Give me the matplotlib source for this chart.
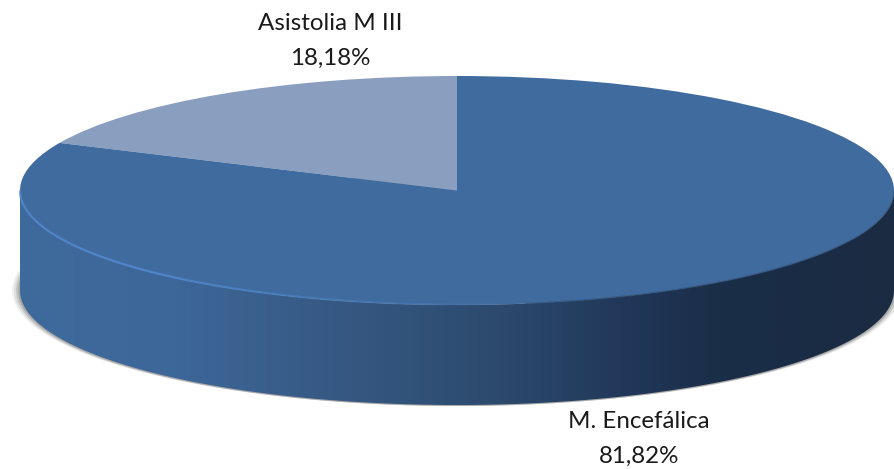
import matplotlib
matplotlib.use('Agg')
import matplotlib.pyplot as plt
from matplotlib.collections import LineCollection
from matplotlib.colors import LinearSegmentedColormap, to_rgba
from matplotlib.patches import Polygon
import numpy as np

labels = ['Asistolia M III', 'M. Encefálica']
values = [18.18, 81.82]
value_labels = ['18,18%', '81,82%']
slice_colors = ['#8A9EC0', '#406B9E']
wall_stops = [(0.0, '#3F6A9C'), (0.18, '#3D6798'), (0.32, '#385C88'), (0.55, '#2C4A6D'),
              (0.69, '#21385A'), (0.8, '#1B2E48'), (1.0, '#1A2B42')]

W, H = 894, 469
cx, cy, rx, ry, depth = 457, 190.5, 437, 114.5, 100

fig = plt.figure(figsize=(W / 100, H / 100), dpi=100)
ax = fig.add_axes([0, 0, 1, 1])
ax.set_xlim(0, W)
ax.set_ylim(H, 0)
ax.axis('off')

# soft shadow, strongest on the left
t = np.linspace(0, 2 * np.pi, 400)
for grow, alpha in [(8, 0.08), (6, 0.12), (4, 0.17), (2, 0.25)]:
    ax.fill(cx + (rx + grow) * np.cos(t), cy + depth + (ry + 1) * np.sin(t),
            color='#555555', alpha=alpha, lw=0, zorder=1)

# side wall, gradient clipped to the band
t = np.linspace(0, np.pi, 300)
wall_x = cx + rx * np.cos(t)
wall_y = cy + ry * np.sin(t)
outline = np.column_stack([np.r_[wall_x, wall_x[::-1]], np.r_[wall_y, wall_y[::-1] + depth]])
wall = Polygon(outline, closed=True, fc='none', ec='none')
ax.add_patch(wall)
cmap = LinearSegmentedColormap.from_list('wall', wall_stops)
im = ax.imshow(np.linspace(0, 1, 512)[None, :], cmap=cmap, aspect='auto',
               extent=[cx - rx, cx + rx, cy + ry + depth, cy], zorder=2)
im.set_clip_path(wall)
ax.set_xlim(0, W)
ax.set_ylim(H, 0)

for x, name, val, y1, y2 in [(330, labels[0], value_labels[0], 24, 58),
                             (639, labels[1], value_labels[1], 422, 456)]:
    ax.text(x, y1, name, ha='center', va='center', fontsize=17.4, family='Lato', color='#1A1A1A')
    ax.text(x, y2, val, ha='center', va='center', fontsize=17.4, family='Lato', color='#1A1A1A')

# top face is a pie squashed into the ellipse
pie_ax = fig.add_axes([(cx - rx) / W, 1 - (cy + ry) / H, 2 * rx / W, 2 * ry / H])
pie_ax.pie(values, colors=slice_colors, startangle=90, radius=1,
           wedgeprops={'linewidth': 0})
pie_ax.set_aspect('auto')
pie_ax.set_xlim(-1, 1)
pie_ax.set_ylim(-1, 1)
pie_ax.patch.set_alpha(0)

# light rim on the front edge, fading out toward the middle
a = np.linspace(np.pi * 1.0, np.pi * 1.55, 200)
pts = np.column_stack([np.cos(a), np.sin(a) * 0.995])
segs = np.stack([pts[:-1], pts[1:]], axis=1)
fade = np.clip((1.55 - a[:-1] / np.pi) / 0.3, 0, 1)
rim = LineCollection(segs, colors=[to_rgba('#4F86CC', f) for f in fade], linewidths=1.6)
rim.set_clip_on(False)
pie_ax.add_collection(rim)

# dark soft edge on the right of the front rim
a = np.linspace(np.pi * 1.55, np.pi * 2.0, 200)
pts = np.column_stack([np.cos(a), np.sin(a)])
segs = np.stack([pts[:-1], pts[1:]], axis=1)
edge = LineCollection(segs, colors=to_rgba('#2F4E75', 0.7), linewidths=1.0)
edge.set_clip_on(False)
pie_ax.add_collection(edge)

fig.savefig('out.png', dpi=100)
